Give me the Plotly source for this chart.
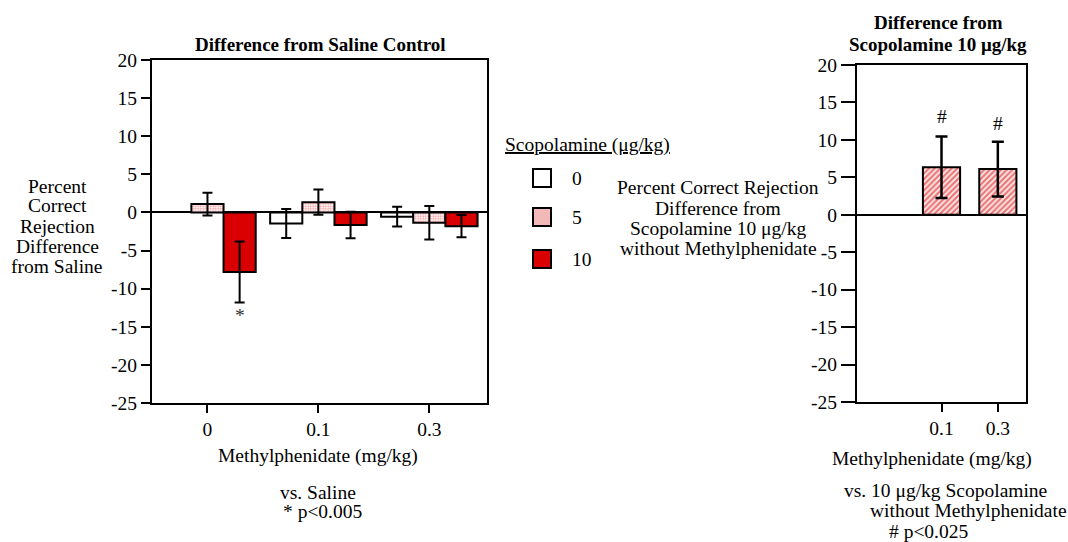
import plotly.graph_objects as go

# ---------------- data ----------------
mph_labels = ["0", "0.1", "0.3"]
mph_pos = [0, 1, 2]
scop0_vals = [None, -1.45, -0.55]
scop0_err = [None, 1.9, 1.3]
scop5_vals = [1.1, 1.35, -1.35]
scop5_err = [1.5, 1.65, 2.2]
scop10_vals = [-7.8, -1.65, -1.8]
scop10_err = [4.0, 1.75, 1.45]

right_pos = [1, 2]
right_labels = ["0.1", "0.3"]
right_vals = [6.35, 6.1]
right_err = [4.1, 3.65]

legend_labels = ["0", "5", "10"]
yticks = [20, 15, 10, 5, 0, -5, -10, -15, -20, -25]
ytick_text = ["20", "15", "10", "5", "0", "-5", "-10", "-15", "-20", "-25"]

# ---------------- style ----------------
W, H = 1068, 542
FONT = "Liberation Serif, Times New Roman, serif"
FS = 19.5
RED = "#d80000"
PINKDOT = "#e23a3a"


def px(x):
    return x / W


def py(y):
    return 1 - y / H


fig = go.Figure()

err_style = dict(type="data", color="black", thickness=2, width=5)

fig.add_trace(go.Bar(x=mph_pos, y=scop0_vals, name="0",
                     marker=dict(color="white", line=dict(color="black", width=2)),
                     error_y=dict(array=scop0_err, **err_style),
                     xaxis="x", yaxis="y", showlegend=False))
fig.add_trace(go.Bar(x=mph_pos, y=scop5_vals, name="5",
                     marker=dict(color="white", line=dict(color="black", width=2),
                                 pattern=dict(shape=".", fgcolor=PINKDOT, bgcolor="#fff4f4",
                                              size=2.5, solidity=0.4)),
                     error_y=dict(array=scop5_err, **err_style),
                     xaxis="x", yaxis="y", showlegend=False))
fig.add_trace(go.Bar(x=mph_pos, y=scop10_vals, name="10",
                     marker=dict(color=RED, line=dict(color="black", width=2)),
                     error_y=dict(array=scop10_err, **err_style),
                     xaxis="x", yaxis="y", showlegend=False))

fig.add_trace(go.Bar(x=right_pos, y=right_vals, width=0.66,
                     marker=dict(color="white", line=dict(color="black", width=2),
                                 pattern=dict(shape="/", fgcolor=RED, bgcolor="#fbe4e4",
                                              size=4, solidity=0.5)),
                     error_y=dict(type="data", array=right_err, color="black", thickness=2.5, width=6),
                     xaxis="x2", yaxis="y2", showlegend=False))

axis_common = dict(showline=True, linecolor="black", linewidth=2, mirror=True,
                   showgrid=False, ticks="outside", tickcolor="black", tickwidth=2,
                   automargin=False,
                   tickfont=dict(family=FONT, size=FS, color="black"))

fig.update_layout(
    width=W, height=H,
    margin=dict(l=0, r=0, t=0, b=0, autoexpand=False),
    paper_bgcolor="white", plot_bgcolor="white",
    barmode="group", bargap=0.13, bargroupgap=0,
    font=dict(family=FONT, size=FS, color="black"),
    xaxis=dict(domain=[px(152), px(487)], range=[-0.5, 2.52],
               tickvals=mph_pos, ticktext=mph_labels, ticklen=8, anchor="y",
               zeroline=False, **axis_common),
    yaxis=dict(domain=[py(403), py(60)], range=[-25, 20], tickvals=yticks,
               ticktext=ytick_text, ticklen=9, anchor="x", zeroline=True,
               zerolinecolor="black", zerolinewidth=1.5, **axis_common),
    xaxis2=dict(domain=[px(857), px(1026)], range=[-0.5, 2.5],
                tickvals=right_pos, ticktext=right_labels, ticklen=8, anchor="y2",
                zeroline=False, **axis_common),
    yaxis2=dict(domain=[py(402), py(65)], range=[-25, 20], tickvals=yticks,
                ticktext=ytick_text, ticklen=14, anchor="x2", zeroline=True,
                zerolinecolor="black", zerolinewidth=2, **axis_common),
)

ann = []


def add_text(x, y, text, size=FS, bold=False, xanchor="center"):
    if bold:
        text = "<b>" + text + "</b>"
    ann.append(dict(x=px(x), y=py(y), xref="paper", yref="paper", text=text,
                    showarrow=False, xanchor=xanchor, yanchor="middle",
                    font=dict(family=FONT, size=size, color="black")))


def add_lines(x, y0, step, lines, **kw):
    for i, line in enumerate(lines):
        add_text(x, y0 + i * step, line, **kw)


add_text(320, 44, "Difference from Saline Control", size=19, bold=True)
add_lines(938, 22, 22, ["Difference from", "Scopolamine 10 μg/kg"], size=19, bold=True)
add_lines(57, 186, 20, ["Percent", "Correct", "Rejection", "Difference", "from Saline"])
add_lines(718, 188, 20, ["Percent Correct Rejection", "Difference from",
                         "Scopolamine 10 μg/kg", "without Methylphenidate"])
add_text(318, 456, "Methylphenidate (mg/kg)")
add_text(932, 459, "Methylphenidate (mg/kg)")
add_text(318, 492, "vs. Saline")
add_text(322, 511, "* p<0.005")
add_text(945, 490, "vs. 10 μg/kg Scopolamine")
add_text(968, 510, "without Methylphenidate")
add_text(928, 531, "# p<0.025")
add_text(503, 145, "<u>Scopolamine (μg/kg)</u>", xanchor="left")

# significance markers
ann.append(dict(x=0.29, y=-13.5, xref="x", yref="y", text="*", showarrow=False,
                font=dict(family=FONT, size=FS, color="#333")))
ann.append(dict(x=1, y=13.1, xref="x2", yref="y2", text="#", showarrow=False,
                font=dict(family=FONT, size=FS, color="black")))
ann.append(dict(x=2, y=12.2, xref="x2", yref="y2", text="#", showarrow=False,
                font=dict(family=FONT, size=FS, color="black")))

# manual legend
legend_y = [178, 217, 259]
legend_fill = ["white", "#f3b8b8", RED]
shapes = []
for lab, yc, fc in zip(legend_labels, legend_y, legend_fill):
    shapes.append(dict(type="rect", xref="paper", yref="paper",
                       x0=px(533), x1=px(551), y0=py(yc + 9), y1=py(yc - 9),
                       fillcolor=fc, line=dict(color="black", width=2)))
    add_text(570, yc, lab, xanchor="left")

fig.update_layout(annotations=ann, shapes=shapes)

fig.write_html("out.html")
